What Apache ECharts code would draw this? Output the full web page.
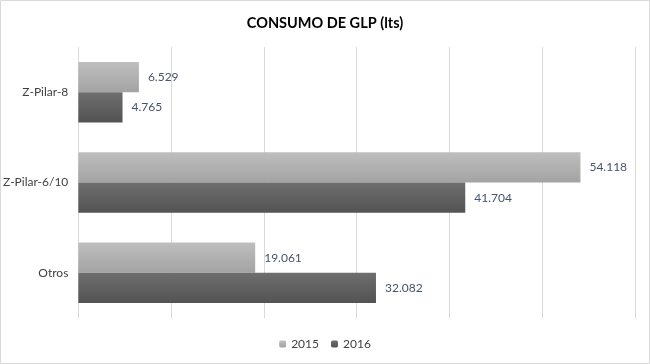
<!DOCTYPE html>
<html><head><meta charset="utf-8">
<script src="https://cdn.jsdelivr.net/npm/echarts@6/dist/echarts.min.js"></script>
<style>html,body{margin:0;padding:0;background:#fff}#c{width:650px;height:364px}</style>
</head><body><div id="c"></div>
<script>
const categories = ['Z-Pilar-8', 'Z-Pilar-6/10', 'Otros'];
const values2015 = [6529, 54118, 19061];
const values2016 = [4765, 41704, 32082];
const seriesNames = ['2015', '2016'];

const chart = echarts.init(document.getElementById('c'));
const fmt = p => p.value.toLocaleString('de-DE');
const grad = (a, b) => new echarts.graphic.LinearGradient(0, 0, 0, 1, [{offset: 0, color: a}, {offset: 1, color: b}]);
const font = 'Lato, "Open Sans", sans-serif';
chart.setOption({
  animation: false,
  textStyle: {fontFamily: font},
  title: {text: 'CONSUMO DE GLP (lts)', left: 'center', top: 11,
    textStyle: {fontSize: 14.5, fontWeight: 'bold', color: '#000', fontFamily: font}},
  graphic: [{type: 'rect', shape: {x: 0.5, y: 0.5, width: 649, height: 363},
    style: {fill: 'none', stroke: '#d9d9d9', lineWidth: 1}, silent: true}],
  legend: {bottom: 9, left: 'center', itemWidth: 7, itemHeight: 7, itemGap: 12,
    textStyle: {fontSize: 12, color: '#404040'}, data: seriesNames},
  grid: {left: 77, right: 15, top: 47, bottom: 46},
  xAxis: {type: 'value', min: 0, max: 60000, interval: 10000,
    axisLabel: {show: false}, axisLine: {show: false}, axisTick: {show: false},
    splitLine: {lineStyle: {color: '#d9d9d9'}}},
  yAxis: {type: 'category', data: categories, inverse: true,
    axisLine: {show: false}, axisTick: {show: false},
    axisLabel: {fontSize: 12, color: '#404040', margin: 10}},
  series: [
    {name: seriesNames[0], type: 'bar', data: values2015, barGap: '0%', barCategoryGap: '33%',
      itemStyle: {color: grad('#bebebe', '#a3a3a3')},
      label: {show: true, position: 'right', distance: 9, fontSize: 12, color: '#44546a', formatter: fmt}},
    {name: seriesNames[1], type: 'bar', data: values2016, barGap: '0%', barCategoryGap: '33%',
      itemStyle: {color: grad('#6e6e6e', '#535353')},
      label: {show: true, position: 'right', distance: 9, fontSize: 12, color: '#44546a', formatter: fmt}}
  ]
});
</script></body></html>
